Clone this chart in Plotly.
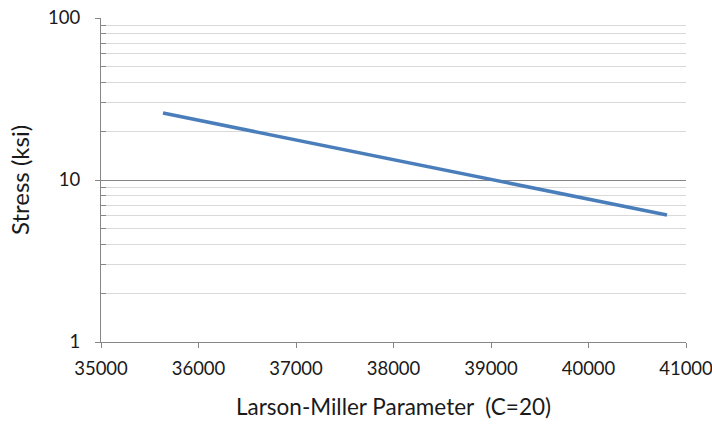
import plotly.graph_objects as go

lmp = [35636, 37000, 38000, 39000, 40000, 40805]
stress = [25.9, 17.7, 13.4, 10.1, 7.62, 6.08]

x_ticks = [35000, 36000, 37000, 38000, 39000, 40000, 41000]
y_ticks = [1, 10, 100]
y_minor = [2, 3, 4, 5, 6, 7, 8, 9, 20, 30, 40, 50, 60, 70, 80, 90]

fig = go.Figure()
fig.add_trace(go.Scatter(x=lmp, y=stress, mode="lines",
                         line=dict(color="#4A7EBB", width=3.5),
                         showlegend=False))

font = "Lato, Open Sans, sans-serif"
fig.update_layout(
    width=712, height=425,
    margin=dict(l=101, r=26, t=18, b=83),
    paper_bgcolor="white", plot_bgcolor="white",
    font=dict(family=font, size=18.5, color="#1a1a1a"),
)
fig.update_xaxes(
    range=[35000, 41000], tickvals=x_ticks, ticktext=[str(v) for v in x_ticks],
    showgrid=False, showline=True, linecolor="#868686", linewidth=1,
    ticks="outside", ticklen=5, tickcolor="#868686",
    zeroline=False, tickfont=dict(size=18.5), automargin=False,
    ticklabelstandoff=5, ticklabeloverflow="allow",
    title=dict(text="Larson-Miller Parameter  (C=20)", font=dict(size=22.5), standoff=21),
)
fig.update_yaxes(
    type="log", range=[0, 2], tickvals=y_ticks, ticktext=[str(v) for v in y_ticks],
    showgrid=True, gridcolor="#868686", gridwidth=1,
    showline=True, linecolor="#868686", linewidth=1,
    ticks="outside", ticklen=5, tickcolor="#868686",
    zeroline=False, tickfont=dict(size=18.5), automargin=False,
    ticklabelstandoff=11,
    minor=dict(tickvals=y_minor, showgrid=True, gridcolor="#D9D9D9", gridwidth=1,
               ticks="inside", ticklen=5, tickcolor="#868686"),
    title=dict(text="Stress (ksi)", font=dict(size=24), standoff=11),
)
fig.write_html("out.html", config={"displayModeBar": False},
               post_script="document.body.style.margin='0';")
